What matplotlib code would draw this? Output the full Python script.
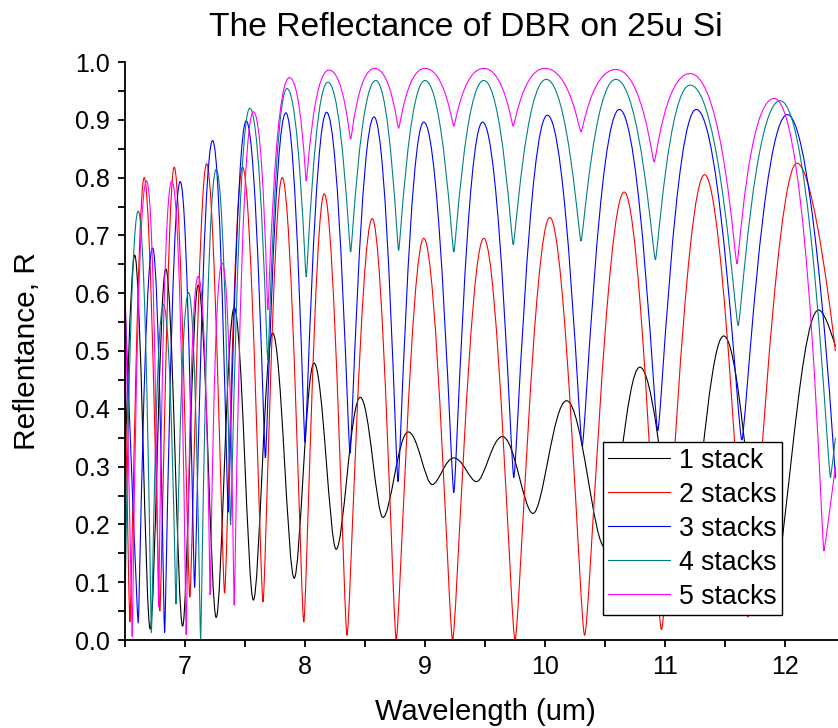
import matplotlib
matplotlib.use("Agg")
import matplotlib.pyplot as plt
from matplotlib.path import Path
from matplotlib.patches import PathPatch
from matplotlib.lines import Line2D
from matplotlib.ticker import MultipleLocator, FormatStrFormatter

plt.rcParams['font.family'] = ['Liberation Sans', 'DejaVu Sans']

# ---- data: extrema (peaks / dips) of each curve ----
x1 = [6.50, 6.58, 6.71, 6.84, 6.98, 7.11, 7.26, 7.41, 7.57, 7.73, 7.91, 8.075, 8.26, 8.46, 8.65,
      8.86, 9.06, 9.24, 9.43, 9.645, 9.90, 10.18, 10.50, 10.79, 11.15, 11.49, 11.86, 12.28, 12.42]
y1 = [0.30, 0.666, 0.019, 0.642, 0.024, 0.614, 0.039, 0.575, 0.069, 0.531, 0.107, 0.479, 0.157, 0.420, 0.212,
      0.360, 0.269, 0.315, 0.274, 0.352, 0.219, 0.414, 0.160, 0.472, 0.100, 0.526, 0.060, 0.571, 0.508]

x2 = [6.50, 6.54, 6.66, 6.79, 6.91, 7.04, 7.18, 7.33, 7.48, 7.65, 7.81, 7.99, 8.16, 8.35, 8.56,
      8.76, 8.99, 9.23, 9.49, 9.75, 10.04, 10.33, 10.66, 10.97, 11.33, 11.69, 12.10, 12.42]
y2 = [0.45, 0.031, 0.800, 0.050, 0.818, 0.074, 0.824, 0.081, 0.818, 0.066, 0.800, 0.031, 0.772, 0.008, 0.729,
      0.001, 0.695, 0.000, 0.695, 0.000, 0.731, 0.008, 0.775, 0.018, 0.805, 0.040, 0.825, 0.500]

x3 = [6.50, 6.61, 6.73, 6.83, 6.96, 7.08, 7.23, 7.36, 7.51, 7.67, 7.84, 8.00, 8.18, 8.375, 8.575,
      8.775, 8.99, 9.24, 9.48, 9.74, 10.02, 10.31, 10.62, 10.94, 11.26, 11.64, 12.02, 12.42]
y3 = [0.588, 0.029, 0.678, 0.013, 0.793, 0.091, 0.864, 0.221, 0.898, 0.315, 0.912, 0.342, 0.913, 0.323, 0.905,
      0.274, 0.896, 0.255, 0.896, 0.281, 0.908, 0.336, 0.918, 0.362, 0.918, 0.346, 0.909, 0.280]

x4 = [6.50, 6.61, 6.72, 6.82, 6.925, 7.03, 7.13, 7.26, 7.38, 7.54, 7.69, 7.85, 8.01, 8.19, 8.38,
      8.59, 8.78, 9.00, 9.24, 9.49, 9.735, 10.01, 10.30, 10.59, 10.92, 11.21, 11.61, 11.96, 12.38, 12.42]
y4 = [0.05, 0.742, 0.013, 0.580, 0.062, 0.601, 0.000, 0.814, 0.199, 0.920, 0.484, 0.954, 0.628, 0.965, 0.671,
      0.968, 0.674, 0.968, 0.671, 0.968, 0.684, 0.970, 0.690, 0.970, 0.658, 0.960, 0.544, 0.933, 0.281, 0.35]

x5 = [6.50, 6.56, 6.68, 6.78, 6.89, 7.01, 7.11, 7.21, 7.31, 7.41, 7.57, 7.69, 7.87, 8.01, 8.20,
      8.38, 8.58, 8.78, 9.00, 9.24, 9.49, 9.735, 10.00, 10.30, 10.59, 10.91, 11.21, 11.60, 11.91, 12.325, 12.42]
y5 = [0.622, 0.006, 0.794, 0.057, 0.794, 0.009, 0.629, 0.078, 0.652, 0.060, 0.914, 0.571, 0.973, 0.794, 0.986,
      0.866, 0.989, 0.885, 0.989, 0.889, 0.989, 0.889, 0.989, 0.879, 0.987, 0.827, 0.980, 0.651, 0.937, 0.154, 0.30]

labels = ['1 stack', '2 stacks', '3 stacks', '4 stacks', '5 stacks']
colors = ['#000000', '#ff0000', '#0000ff', '#008080', '#ff00ff']
# handle fractions (peak, dip) controlling curve roundness
shape = [(0.40, 0.30), (0.45, 0.12), (0.55, 0.08), (0.62, 0.06), (0.70, 0.05)]
series = [(x1, y1), (x2, y2), (x3, y3), (x4, y4), (x5, y5)]


def make_path(xs, ys, hp, hd):
    n = len(xs)

    def handle(i):
        if i == 0 or i == n - 1:
            return 0.0
        return hp if ys[i] > ys[i - 1] else hd

    verts = [(xs[0], ys[0])]
    codes = [Path.MOVETO]
    for i in range(n - 1):
        dx = xs[i + 1] - xs[i]
        verts += [(xs[i] + handle(i) * dx, ys[i]),
                  (xs[i + 1] - handle(i + 1) * dx, ys[i + 1]),
                  (xs[i + 1], ys[i + 1])]
        codes += [Path.CURVE4] * 3
    return Path(verts, codes)


fig = plt.figure(figsize=(8.38, 7.28), dpi=100)
ax = fig.add_axes([125 / 838, 88 / 728, 720 / 838, 578 / 728])

for (xs, ys), c, (hp, hd) in zip(series, colors, shape):
    ax.add_patch(PathPatch(make_path(xs, ys, hp, hd), fill=False, edgecolor=c, lw=0.8))

ax.set_xlim(6.5, 12.5)
ax.set_ylim(0.0, 1.0)
ax.spines['top'].set_visible(False)
ax.spines['right'].set_visible(False)
for s in ['left', 'bottom']:
    ax.spines[s].set_linewidth(1.3)

ax.xaxis.set_major_locator(MultipleLocator(1))
ax.xaxis.set_minor_locator(MultipleLocator(0.5))
ax.yaxis.set_major_locator(MultipleLocator(0.1))
ax.yaxis.set_minor_locator(MultipleLocator(0.05))
ax.yaxis.set_major_formatter(FormatStrFormatter('%.1f'))
ax.tick_params(which='both', direction='out', width=1.3, labelsize=18, pad=6)
ax.tick_params(which='major', length=5)
ax.tick_params(which='minor', length=5)

ax.set_xlabel('Wavelength (um)', fontsize=21, va='center')
ax.set_ylabel('Reflentance, R', fontsize=21.5, va='center')
ax.xaxis.set_label_coords(0.5, (640 - 712) / 578)
ax.yaxis.set_label_coords((27 - 125) / 720, 0.5)
fig.text(466 / 838, 1 - 28 / 728, 'The Reflectance of DBR on 25u Si', fontsize=24.2,
         ha='center', va='center')

handles = [Line2D([], [], color=c, lw=0.8) for c in colors]
leg = ax.legend(handles, labels, loc='lower left', bbox_to_anchor=(478 / 720, 25 / 578),
                borderaxespad=0, fontsize=19.2, frameon=True, fancybox=False,
                handlelength=2.3, handletextpad=0.35, labelspacing=0.3, borderpad=0.2)
leg.get_frame().set_edgecolor('black')
leg.get_frame().set_linewidth(1.0)
leg.get_frame().set_alpha(1)

fig.savefig('out.png', dpi=100)
